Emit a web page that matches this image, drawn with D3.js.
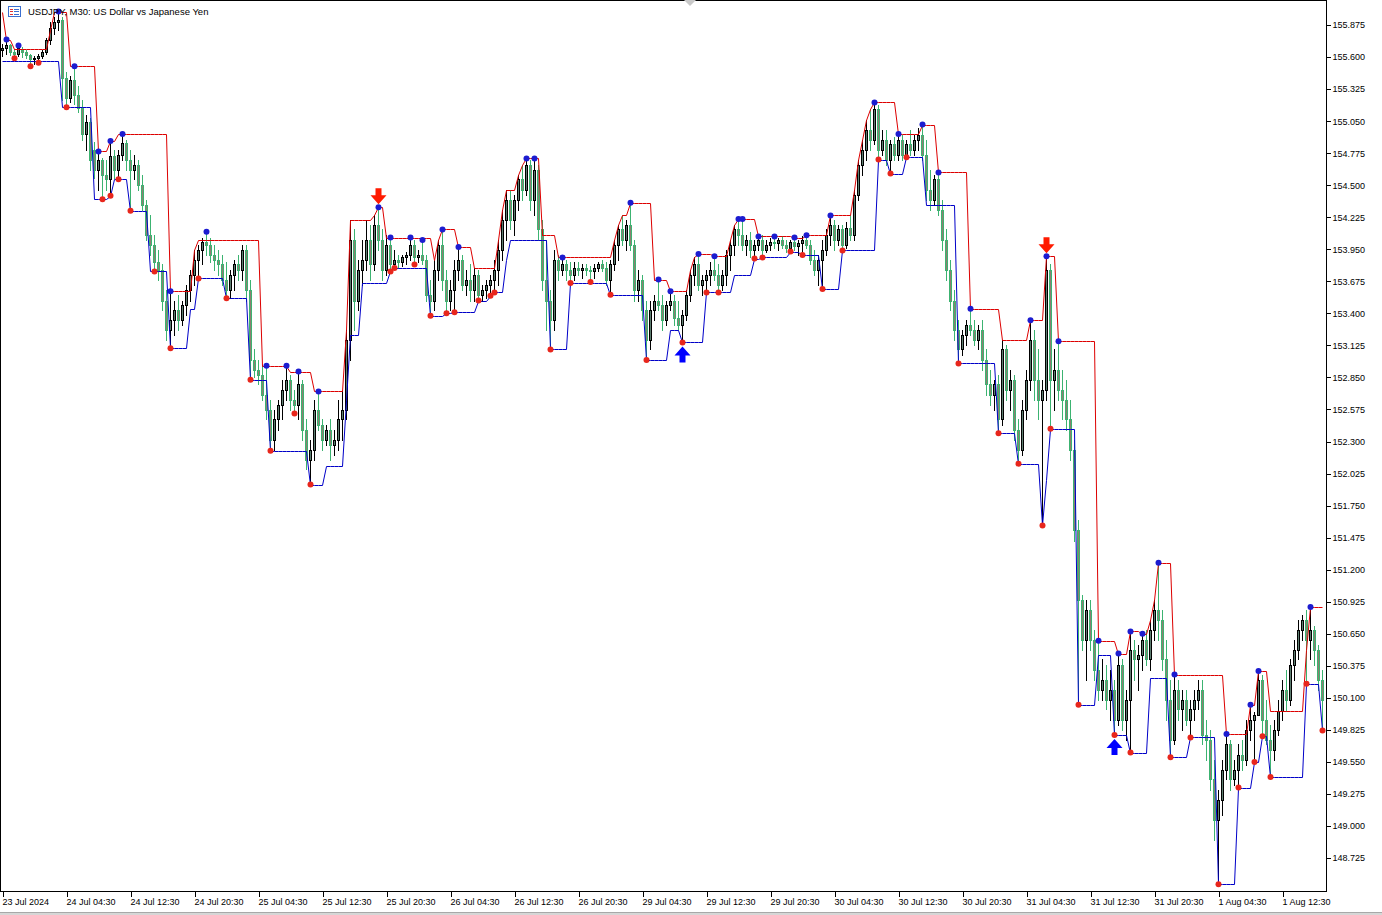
<!DOCTYPE html>
<html><head><meta charset="utf-8">
<script src="https://cdn.jsdelivr.net/npm/d3@7"></script>
<style>body{margin:0;background:#fff;overflow:hidden}svg{display:block}</style>
</head><body>
<svg id="c" width="1382" height="915"></svg>
<script>
const symbolTitle = "USDJPY, M30: US Dollar vs Japanese Yen";
const opens = [
155.66,155.68,155.70,155.64,155.63,155.66,155.64,155.62,155.58,155.59,
155.61,155.64,155.75,155.85,155.90,155.92,155.42,155.25,155.40,155.27,
155.16,154.94,155.04,154.80,154.63,154.72,154.59,154.55,154.75,154.63,
154.76,154.86,154.72,154.63,154.67,154.50,154.33,154.07,153.99,153.84,
153.77,153.51,153.26,153.34,153.43,153.34,153.47,153.60,153.73,153.86,
153.94,154.01,153.99,153.90,153.86,153.82,153.69,153.60,153.73,153.82,
153.77,153.94,153.60,153.00,152.91,152.87,152.70,152.57,152.31,152.49,
152.61,152.74,152.83,152.66,152.61,152.79,152.40,152.14,152.23,152.57,
152.44,152.31,152.40,152.27,152.31,152.49,152.57,153.17,154.03,153.51,
153.77,153.86,154.03,153.82,154.16,154.03,153.77,153.99,153.82,153.86,
153.84,153.88,153.90,153.99,153.88,153.90,153.86,153.56,153.51,153.77,
153.99,153.69,153.51,153.60,153.77,153.86,153.64,153.69,153.60,153.73,
153.56,153.60,153.64,153.69,153.77,153.94,154.20,154.37,154.20,154.37,
154.55,154.46,154.67,154.37,154.63,154.12,153.69,153.51,153.34,153.86,
153.77,153.82,153.77,153.73,153.79,153.77,153.79,153.77,153.76,153.79,
153.82,153.79,153.69,153.82,153.99,154.12,154.03,154.16,153.99,153.60,
153.69,153.43,153.17,153.43,153.51,153.47,153.34,153.47,153.51,153.36,
153.30,153.39,153.56,153.73,153.82,153.64,153.69,153.73,153.77,153.73,
153.64,153.73,153.90,153.99,154.12,154.07,153.99,154.03,153.94,153.99,
154.03,153.94,153.99,154.01,154.00,154.03,153.99,153.96,154.01,153.98,
154.00,154.03,153.99,153.86,153.77,153.86,153.94,154.07,154.16,154.03,
154.12,153.99,154.13,154.07,154.42,154.67,154.80,154.97,154.89,155.15,
154.80,154.89,154.72,154.85,154.76,154.89,154.76,154.85,154.80,154.89,
154.93,154.76,154.46,154.37,154.55,154.29,154.03,153.77,153.51,153.26,
153.09,153.21,153.30,153.26,153.17,153.26,153.00,152.79,152.70,152.79,
152.49,153.09,152.74,152.83,152.40,152.23,152.57,152.83,153.17,152.83,
152.66,152.74,153.77,152.83,152.91,152.74,152.66,152.49,152.23,151.54,
150.94,150.60,150.85,150.60,150.34,150.17,150.25,150.08,150.17,149.91,
150.38,149.91,150.08,150.51,150.43,150.47,150.60,150.43,150.68,150.85,
150.77,150.43,150.08,149.74,150.17,150.00,150.08,149.91,150.00,150.08,
150.17,149.78,149.74,149.40,149.05,149.22,149.48,149.70,149.40,149.48,
149.61,149.57,149.82,149.91,149.95,150.25,149.91,149.74,149.65,149.82,
149.99,150.17,150.08,150.38,150.51,150.68,150.77,150.60,150.68,150.51,
150.25];
const highs = [
155.71,155.75,155.71,155.67,155.70,155.69,155.66,155.63,155.61,155.63,
155.66,155.76,155.90,155.94,155.99,155.94,155.47,155.44,155.52,155.35,
155.23,155.10,155.08,154.87,154.79,154.73,154.72,154.88,154.80,154.80,
154.94,154.89,154.80,154.76,154.72,154.59,154.37,154.24,154.07,153.94,
153.82,153.60,153.59,153.51,153.56,153.51,153.64,153.77,153.94,153.99,
154.05,154.10,154.05,153.99,153.94,153.90,153.84,153.77,153.86,153.90,
153.99,153.99,153.69,153.09,153.00,152.96,152.95,152.66,152.57,152.66,
152.83,152.95,152.87,152.74,152.90,152.83,152.49,152.31,152.66,152.73,
152.49,152.44,152.49,152.40,152.66,152.74,153.26,154.20,154.12,153.86,
154.03,154.20,154.16,154.24,154.31,154.12,154.07,154.05,153.94,153.90,
153.90,153.93,154.05,154.03,153.94,154.03,153.90,153.69,153.86,154.03,
154.12,153.77,153.69,153.86,153.97,153.90,153.77,153.82,153.79,153.77,
153.64,153.69,153.73,153.86,154.03,154.29,154.46,154.46,154.42,154.59,
154.67,154.73,154.72,154.73,154.67,154.20,154.03,153.60,153.94,153.90,
153.88,153.86,153.84,153.84,153.84,153.82,153.82,153.81,153.82,153.84,
153.86,153.84,153.86,154.03,154.16,154.24,154.20,154.35,154.03,153.77,
153.73,153.51,153.51,153.56,153.69,153.56,153.51,153.59,153.56,153.51,
153.43,153.60,153.77,153.88,153.91,153.73,153.77,153.84,153.89,153.82,
153.77,153.94,154.03,154.16,154.21,154.21,154.07,154.10,154.03,154.06,
154.07,154.03,154.05,154.06,154.05,154.06,154.03,154.03,154.05,154.03,
154.06,154.07,154.03,153.94,153.90,154.03,154.12,154.24,154.20,154.16,
154.16,154.18,154.24,154.46,154.72,154.89,155.06,155.15,155.21,155.19,
154.97,154.97,154.89,154.91,154.94,154.93,154.89,154.97,154.93,154.99,
155.02,154.89,154.63,154.59,154.61,154.37,154.12,153.86,153.60,153.34,
153.26,153.34,153.44,153.34,153.30,153.34,153.09,152.91,152.83,152.87,
153.17,153.13,152.91,152.87,152.49,152.66,152.91,153.34,153.26,153.09,
152.83,153.89,153.82,153.09,153.16,152.91,152.83,152.66,152.31,151.63,
150.98,150.94,150.94,150.68,150.59,150.43,150.38,150.34,150.25,150.48,
150.43,150.17,150.67,150.60,150.55,150.65,150.68,150.77,150.94,151.26,
150.85,150.60,150.25,150.30,150.25,150.17,150.17,150.08,150.17,150.25,
150.25,149.91,149.82,149.57,149.31,149.57,149.79,149.74,149.57,149.70,
149.74,149.91,150.04,149.98,150.33,150.30,150.08,149.87,149.91,150.08,
150.25,150.34,150.43,150.60,150.77,150.81,150.85,150.88,150.72,150.55,
150.34];
const lows = [
155.61,155.63,155.62,155.59,155.61,155.60,155.59,155.52,155.54,155.55,
155.59,155.63,155.71,155.80,155.83,155.23,155.17,155.21,155.20,155.13,
154.89,154.80,154.63,154.56,154.46,154.38,154.46,154.41,154.56,154.55,
154.72,154.63,154.28,154.55,154.46,154.29,154.03,153.90,153.76,153.69,
153.43,153.17,153.10,153.21,153.26,153.30,153.39,153.51,153.64,153.70,
153.82,153.90,153.84,153.77,153.73,153.64,153.53,153.53,153.60,153.69,
153.69,153.51,152.83,152.85,152.79,152.66,152.49,152.22,152.23,152.40,
152.49,152.66,152.57,152.54,152.49,152.31,152.06,151.93,152.14,152.40,
152.23,152.27,152.14,152.18,152.23,152.31,152.49,153.00,153.26,153.43,
153.64,153.77,153.69,153.77,153.94,153.69,153.73,153.76,153.79,153.79,
153.81,153.82,153.86,153.82,153.84,153.82,153.51,153.38,153.43,153.69,
153.60,153.40,153.43,153.41,153.69,153.60,153.56,153.51,153.51,153.51,
153.51,153.53,153.55,153.58,153.64,153.86,154.03,154.12,154.07,154.29,
154.37,154.42,154.29,154.24,154.03,153.60,153.26,153.09,153.26,153.69,
153.73,153.69,153.66,153.69,153.73,153.70,153.73,153.67,153.70,153.76,
153.76,153.64,153.56,153.77,153.86,153.99,153.94,153.94,153.51,153.51,
153.34,153.00,153.09,153.34,153.43,153.26,153.30,153.43,153.30,153.26,
153.15,153.34,153.51,153.64,153.60,153.56,153.58,153.64,153.69,153.58,
153.60,153.64,153.77,153.90,153.99,153.94,153.90,153.88,153.87,153.94,
153.88,153.93,153.94,153.96,153.94,153.96,153.93,153.93,153.94,153.90,
153.90,153.96,153.82,153.73,153.64,153.61,153.90,153.99,153.94,153.99,
153.94,153.96,154.03,154.03,154.37,154.59,154.72,154.80,154.85,154.72,
154.76,154.67,154.60,154.72,154.72,154.72,154.74,154.76,154.76,154.80,
154.72,154.37,154.29,154.33,154.24,153.94,153.69,153.43,153.17,152.97,
153.04,153.13,153.21,153.13,153.09,152.91,152.70,152.61,152.57,152.37,
152.44,152.66,152.57,152.31,152.11,152.18,152.49,152.74,152.66,152.49,
151.58,152.66,152.41,152.57,152.66,152.49,152.40,152.14,151.45,150.04,
150.51,150.25,150.51,150.25,150.08,150.08,150.00,149.91,149.78,149.87,
149.82,149.74,149.63,150.25,150.17,150.34,150.38,150.34,150.60,150.60,
150.34,149.91,149.59,149.70,149.91,149.82,149.87,149.76,149.91,150.00,
149.70,149.57,149.31,148.88,148.50,149.09,149.40,149.31,149.35,149.33,
149.48,149.52,149.74,149.55,149.95,149.77,149.70,149.42,149.57,149.78,
149.91,149.99,150.04,150.25,150.43,150.60,150.22,150.43,150.38,150.17,
149.82];
const closes = [
155.68,155.70,155.64,155.63,155.68,155.64,155.62,155.58,155.59,155.61,
155.64,155.75,155.85,155.90,155.92,155.42,155.25,155.40,155.27,155.16,
154.94,155.04,154.72,154.63,154.72,154.59,154.55,154.75,154.63,154.76,
154.86,154.72,154.63,154.67,154.50,154.33,154.07,153.99,153.84,153.77,
153.51,153.26,153.34,153.43,153.34,153.47,153.60,153.73,153.86,153.94,
154.01,153.99,153.90,153.86,153.82,153.69,153.60,153.73,153.82,153.77,
153.94,153.60,153.00,152.91,152.87,152.70,152.57,152.31,152.49,152.61,
152.74,152.83,152.66,152.61,152.79,152.40,152.14,152.23,152.57,152.44,
152.31,152.40,152.27,152.31,152.49,152.57,153.17,154.03,153.51,153.77,
153.86,154.03,153.82,154.16,154.03,153.77,153.99,153.82,153.86,153.84,
153.88,153.90,153.99,153.88,153.90,153.86,153.56,153.51,153.77,153.99,
153.69,153.51,153.60,153.77,153.86,153.64,153.69,153.60,153.73,153.56,
153.60,153.64,153.69,153.77,153.94,154.20,154.37,154.20,154.37,154.55,
154.46,154.67,154.37,154.63,154.12,153.69,153.51,153.34,153.86,153.77,
153.82,153.77,153.73,153.79,153.77,153.79,153.77,153.76,153.79,153.82,
153.79,153.69,153.82,153.99,154.12,154.03,154.16,153.99,153.60,153.69,
153.43,153.17,153.43,153.51,153.47,153.34,153.47,153.51,153.36,153.30,
153.39,153.56,153.73,153.82,153.64,153.69,153.73,153.77,153.73,153.64,
153.73,153.90,153.99,154.12,154.07,153.99,154.03,153.94,153.99,154.03,
153.94,153.99,154.01,154.00,154.03,153.99,153.96,154.01,153.98,154.00,
154.03,153.99,153.86,153.77,153.86,153.94,154.07,154.16,154.03,154.12,
153.99,154.13,154.07,154.42,154.67,154.80,154.97,154.89,155.15,154.80,
154.89,154.72,154.85,154.76,154.89,154.76,154.85,154.80,154.89,154.93,
154.76,154.46,154.37,154.55,154.29,154.03,153.77,153.51,153.26,153.09,
153.21,153.30,153.26,153.17,153.26,153.00,152.79,152.70,152.79,152.49,
153.09,152.74,152.83,152.40,152.23,152.57,152.83,153.17,152.83,152.66,
152.74,153.77,152.83,152.91,152.74,152.66,152.49,152.23,151.54,150.94,
150.60,150.85,150.60,150.34,150.17,150.25,150.08,150.17,149.91,150.38,
149.91,150.08,150.51,150.43,150.47,150.60,150.43,150.68,150.85,150.77,
150.43,150.08,149.74,150.17,150.00,150.08,149.91,150.00,150.08,150.17,
149.78,149.74,149.40,149.05,149.22,149.48,149.70,149.40,149.48,149.61,
149.57,149.82,149.91,149.95,150.25,149.91,149.74,149.65,149.82,149.99,
150.17,150.08,150.38,150.51,150.68,150.77,150.60,150.68,150.51,150.25,
150.08];
// indicator upper (red) line: [fromBar, level]
const upperSteps = [[0,155.99],[1,155.75],[3,155.67],[12,155.83],[13,155.99],[17,155.52],[24,154.79],[27,154.88],[29,154.94],
[42,153.59],[48,153.94],[49,154.03],[65,152.95],[72,152.90],[78,152.73],[86,153.26],[87,154.20],[93,154.24],[94,154.31],
[96,154.05],[108,153.86],[109,154.03],[110,154.12],[114,153.97],[118,153.79],[124,154.03],[125,154.29],[126,154.46],
[129,154.59],[130,154.67],[131,154.73],[135,154.07],[139,153.88],[153,154.03],[154,154.16],[155,154.24],[157,154.35],
[163,153.69],[167,153.59],[172,153.77],[173,153.88],[174,153.91],[178,153.89],[182,154.03],[183,154.16],[184,154.21],
[189,154.06],[193,154.06],[198,154.05],[201,154.07],[207,154.24],[213,154.46],[214,154.72],[215,154.89],[216,155.06],
[217,155.15],[218,155.21],[224,154.94],[230,155.02],[234,154.61],[242,153.44],[250,153.17],[257,153.34],[261,153.89],
[264,153.16],[274,150.59],[279,150.48],[282,150.67],[285,150.65],[287,150.77],[288,150.94],[289,151.26],[293,150.30],
[306,149.79],[312,150.04],[314,150.33],[317,149.99],[326,150.51],[327,150.88]];
// indicator lower (blue) line: [fromBar, level]
const lowerSteps = [[0,155.57],[15,155.17],[23,154.38],[27,154.41],[28,154.55],[32,154.28],[37,153.76],[42,153.10],
[47,153.44],[49,153.70],[56,153.53],[62,152.83],[67,152.22],[77,151.93],[81,152.09],[86,152.66],[87,153.21],[90,153.66],
[97,153.76],[98,153.79],[107,153.38],[111,153.40],[113,153.41],[119,153.51],[122,153.55],[123,153.58],[126,153.86],
[127,154.03],[137,153.09],[142,153.66],[152,153.56],[161,153.00],[167,153.26],[170,153.15],[176,153.58],[183,153.73],
[188,153.87],[190,153.88],[197,153.93],[200,153.90],[205,153.61],[210,153.94],[219,154.72],[222,154.60],[226,154.74],
[231,154.33],[239,152.97],[249,152.37],[254,152.11],[260,151.58],[261,151.97],[262,152.41],[269,150.04],[274,150.47],
[278,149.78],[282,149.63],[287,150.27],[292,149.59],[297,149.76],[304,148.50],[309,149.33],[313,149.55],[315,149.77],
[317,149.42],[326,150.22],[330,149.82]];
const swingHighBars = [1,4,14,18,24,27,30,42,51,66,71,74,79,94,97,102,105,110,114,131,133,140,157,164,167,174,178,
184,185,189,193,198,201,207,218,224,230,234,242,257,261,264,274,279,282,285,289,293,306,312,314,327];
const swingLowBars = [3,7,9,16,25,27,29,32,38,42,49,56,62,67,73,77,97,98,103,107,111,113,119,122,123,137,142,147,152,
161,170,176,179,188,190,197,200,205,210,219,222,226,239,249,254,260,262,269,278,282,292,297,304,309,313,315,317,326,330];
const sellArrowBars = [94, 261];
const buyArrowBars = [170, 278];
const priceTicks = [155.875,155.600,155.325,155.050,154.775,154.500,154.225,153.950,153.675,153.400,153.125,
152.850,152.575,152.300,152.025,151.750,151.475,151.200,150.925,150.650,150.375,150.100,149.825,149.550,149.275,149.000,148.725];
const timeTickBars = [0,16,32,48,64,80,96,112,128,144,160,176,192,208,224,240,256,272,288,304,320];
const timeTickLabels = ["23 Jul 2024","24 Jul 04:30","24 Jul 12:30","24 Jul 20:30","25 Jul 04:30","25 Jul 12:30",
"25 Jul 20:30","26 Jul 04:30","26 Jul 12:30","26 Jul 20:30","29 Jul 04:30","29 Jul 12:30","29 Jul 20:30",
"30 Jul 04:30","30 Jul 12:30","30 Jul 20:30","31 Jul 04:30","31 Jul 12:30","31 Jul 20:30","1 Aug 04:30","1 Aug 12:30"];

const W = 1382, H = 915, plotR = 1326, plotB = 891;
const FONT = "'Liberation Sans', Arial, sans-serif";
const svg = d3.select("#c");
const x = d3.scaleLinear().domain([0, 331]).range([2, 1326]);
const y = d3.scaleLinear().domain([148.725, 155.875]).range([858, 25]);
const n = closes.length;

function expand(steps){ const out=[]; let k=0; for(let i=0;i<n;i++){ while(k+1<steps.length && steps[k+1][0]<=i) k++; out.push(steps[k][1]); } return out; }
const upper = expand(upperSteps), lower = expand(lowerSteps);

svg.append("rect").attr("width",W).attr("height",H).attr("fill","#fff");
svg.append("clipPath").attr("id","pc").append("rect").attr("x",1).attr("y",1).attr("width",plotR-1).attr("height",plotB-1);
const g = svg.append("g").attr("clip-path","url(#pc)");

const bullLine="#000000", bullFill="#5d7d70", bearLine="#3cb371", bearFill="#8f7d72";
const cg = g.append("g").attr("shape-rendering","crispEdges");
d3.range(n).forEach(i=>{
  const cx = Math.round(x(i));
  const up = closes[i] >= opens[i];
  const lc = up ? bullLine : bearLine, fc = up ? bullFill : bearFill;
  const yh = Math.round(y(highs[i])), yl = Math.round(y(lows[i]));
  const yt = Math.round(y(Math.max(opens[i],closes[i]))), yb = Math.round(y(Math.min(opens[i],closes[i])));
  cg.append("rect").attr("x",cx).attr("y",yh).attr("width",1).attr("height",Math.max(1,yl-yh+1)).attr("fill",lc);
  const bh = Math.max(1, yb-yt+1);
  cg.append("rect").attr("x",cx-1).attr("y",yt).attr("width",3).attr("height",bh).attr("fill",lc);
  if (bh > 2) cg.append("rect").attr("x",cx).attr("y",yt+1).attr("width",1).attr("height",bh-2).attr("fill",fc);
});

const line = d3.line().x((d,i)=>x(i)+0.5).y(d=>Math.round(y(d))+0.5);
g.append("path").attr("d",line(upper)).attr("fill","none").attr("stroke","#dd0000").attr("stroke-width",1);
g.append("path").attr("d",line(lower)).attr("fill","none").attr("stroke","#0000c8").attr("stroke-width",1);

swingHighBars.forEach(i=>{
  g.append("circle").attr("cx",x(i)+0.5).attr("cy",y(highs[i])).attr("r",3).attr("fill","#1c1cd0");
});
swingLowBars.forEach(i=>{
  g.append("circle").attr("cx",x(i)+0.5).attr("cy",y(lows[i])).attr("r",3).attr("fill","#e8261c");
});
const arrowDown = "M0,0 L-8,-9 L-3,-9 L-3,-16 L3,-16 L3,-9 L8,-9 Z";
sellArrowBars.forEach(i=>{
  g.append("path").attr("d",arrowDown).attr("fill","#ff1a00")
   .attr("transform",`translate(${x(i)+0.5},${y(highs[i])-3})`);
});
buyArrowBars.forEach(i=>{
  g.append("path").attr("d",arrowDown).attr("fill","#0000ff")
   .attr("transform",`translate(${x(i)+0.5},${y(lows[i])+4}) scale(1,-1)`);
});

// frame
const fr = svg.append("g").attr("shape-rendering","crispEdges").attr("stroke","#000");
fr.append("line").attr("x1",0.5).attr("x2",0.5).attr("y1",0).attr("y2",plotB);
fr.append("line").attr("x1",0).attr("x2",plotR).attr("y1",0.5).attr("y2",0.5);

// right price axis
const ay = svg.append("g").attr("transform",`translate(${plotR+0.5},0)`)
  .call(d3.axisRight(y).tickValues(priceTicks).tickSize(4).tickPadding(2).tickFormat(d3.format(".3f")));
ay.select(".domain").remove();
ay.selectAll("line").attr("stroke","#000").attr("shape-rendering","crispEdges");
ay.selectAll("text").attr("font-family",FONT).attr("font-size","9px").attr("fill","#000");
svg.append("line").attr("x1",plotR+0.5).attr("x2",plotR+0.5).attr("y1",0).attr("y2",plotB+0.5).attr("stroke","#000").attr("shape-rendering","crispEdges");

// bottom time axis
const ax = svg.append("g").attr("transform",`translate(0,${plotB+0.5})`)
  .call(d3.axisBottom(x).tickValues(timeTickBars).tickSize(5).tickFormat((d,i)=>timeTickLabels[i]));
ax.select(".domain").remove();
ax.selectAll("line").attr("stroke","#000").attr("shape-rendering","crispEdges").attr("transform","translate(0.5,0)");
ax.selectAll("text").attr("font-family",FONT).attr("font-size","9px").attr("fill","#000")
  .attr("text-anchor","start").attr("dy",null).attr("y",13).attr("x",0);
svg.append("line").attr("x1",0).attr("x2",plotR+0.5).attr("y1",plotB+0.5).attr("y2",plotB+0.5).attr("stroke","#000").attr("shape-rendering","crispEdges");

// bottom window strip and top marker
svg.append("rect").attr("x",0).attr("y",912).attr("width",W).attr("height",3).attr("fill","#d6d6d6");
svg.append("line").attr("x1",0).attr("x2",W).attr("y1",912.5).attr("y2",912.5).attr("stroke","#a8a8a8");
svg.append("path").attr("d","M684,0 L696,0 L690,6 Z").attr("fill","#c8c8c8");

// title with icon
const ic = svg.append("g").attr("transform","translate(8,6)").attr("shape-rendering","crispEdges");
ic.append("rect").attr("x",0.5).attr("y",0.5).attr("width",12).attr("height",10).attr("fill","#fff").attr("stroke","#3a6fd0");
[3,5.5,8].forEach((yy,k)=>{
  ic.append("line").attr("x1",2).attr("x2",5).attr("y1",yy).attr("y2",yy).attr("stroke","#e03030");
  ic.append("line").attr("x1",6).attr("x2",11).attr("y1",yy).attr("y2",yy).attr("stroke","#3a6fd0");
});
svg.append("text").attr("x",28).attr("y",15).attr("font-family",FONT).attr("font-size","9.5px").attr("fill","#000").text(symbolTitle);
</script>
</body></html>
